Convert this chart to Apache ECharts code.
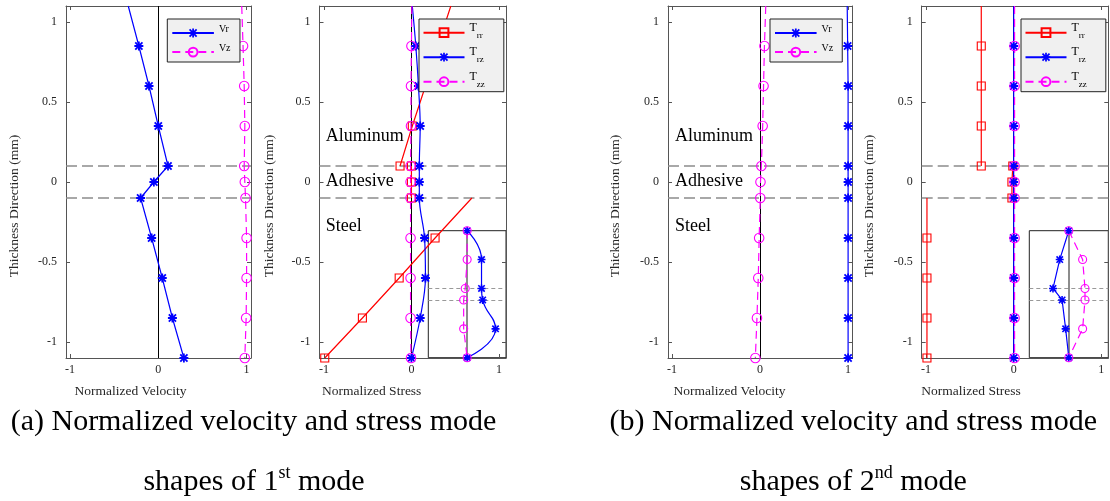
<!DOCTYPE html>
<html><head><meta charset="utf-8">
<script src="https://cdn.jsdelivr.net/npm/echarts@6/dist/echarts.min.js"></script>
<style>html,body{margin:0;padding:0;background:#fff}#c{width:1110px;height:501px}</style>
</head><body><div id="c"></div>
<script>
// ---------- data ----------
const thickness = [1.1, 0.85, 0.6, 0.35, 0.1, 0, -0.1, -0.35, -0.6, -0.85, -1.1];
const interfaces = [0.1, -0.1];
const yTicks = [-1, -0.5, 0, 0.5, 1];
const xTicks = [-1, 0, 1];
const alumY = [1.1, 0.85, 0.6, 0.35, 0.1];
const adhY = [0.1, 0, -0.1];
const steelY = [-0.1, -0.35, -0.6, -0.85, -1.1];
// mode 1
const m1Vr = [-0.34, -0.22, -0.105, 0.0, 0.11, -0.05, -0.2, -0.075, 0.045, 0.16, 0.29];
const m1Vz = [0.945, 0.96, 0.973, 0.98, 0.973, 0.98, 0.988, 1.0, 1.0, 0.995, 0.98];
const m1TrrAl = [0.45, 0.3, 0.16, 0.01, -0.13];
const m1TrrAd = [0.0, 0.0, 0.0];
const m1TrrSt = [0.69, 0.27, -0.14, -0.56, -0.99];
const m1Trz = [0.01, 0.05, 0.08, 0.1, 0.09, 0.09, 0.09, 0.15, 0.16, 0.1, 0.0];
const m1Tzz = [0.005, 0, -0.005, -0.005, -0.01, -0.01, -0.01, -0.01, -0.01, -0.01, -0.005];
// mode 2
const m2Vr = [0.99, 0.995, 1, 1, 1, 1, 1, 1, 1, 1, 1];
const m2Vz = [0.065, 0.05, 0.04, 0.03, 0.015, 0.005, 0.003, -0.01, -0.02, -0.035, -0.053];
const m2TrrAl = [-0.37, -0.37, -0.37, -0.37, -0.37];
const m2TrrAd = [-0.01, -0.02, -0.02];
const m2TrrSt = [-0.99, -0.99, -0.99, -0.99, -0.99];
const m2Trz = [0, 0, 0, 0, 0, 0, 0, 0, 0, 0, 0];
const m2Tzz = [0.01, 0.01, 0.01, 0.01, 0.01, 0.01, 0.01, 0.01, 0.01, 0.01, 0.01];
// insets (zoomed views)
const insetY = [1.1, 0.6, 0.1, -0.1, -0.6, -1.1];
const insetATrz = [0, 0.37, 0.37, 0.40, 0.73, 0];
const insetATzz = [0, 0, -0.05, -0.09, -0.09, 0];
const insetBTrz = [0, -0.23, -0.40, -0.17, -0.08, 0];
const insetBTzz = [0, 0.35, 0.41, 0.41, 0.35, 0];

// ---------- styles ----------
const FONT = '"Liberation Serif", "Times New Roman", serif';
const BLUE = '#0000ff', RED = '#ff0000', MAG = '#ff00ff';
const STAR = 'path://M8,0H12V20H8Z M0,8H20V12H0Z M3.41,0.59L19.41,16.59L16.59,19.41L0.59,3.41Z M16.59,0.59L19.41,3.41L3.41,19.41L0.59,16.59Z';
const AXC = '#555';

function pts(xs, ys, unmarked) {
  return xs.map((x, i) => {
    const it = { value: [x, ys[i]] };
    if (unmarked && unmarked.indexOf(i) >= 0) it.symbol = 'none';
    return it;
  });
}
function ser(name, axis, data, kind, extra) {
  const base = { name, type: 'line', xAxisIndex: axis, yAxisIndex: axis, data, animation: false, z: 3,
    emphasis: { disabled: true }, silent: true };
  if (kind === 'star') Object.assign(base, { symbol: STAR, symbolSize: 9,
    itemStyle: { color: BLUE, borderWidth: 0 }, lineStyle: { color: BLUE, width: 1.2 } });
  if (kind === 'circle') Object.assign(base, { symbol: 'circle', symbolSize: 9.5,
    itemStyle: { color: 'rgba(0,0,0,0)', borderColor: MAG, borderWidth: 1.1 },
    lineStyle: { color: MAG, width: 1.2, type: [8, 5] } });
  if (kind === 'rect') Object.assign(base, { symbol: 'rect', symbolSize: 8,
    itemStyle: { color: 'rgba(0,0,0,0)', borderColor: RED, borderWidth: 1.1 },
    lineStyle: { color: RED, width: 1.2 } });
  return Object.assign(base, extra || {});
}
function refSeries(axis, withZero, inset) {
  const data = interfaces.map(v => ({ yAxis: v, lineStyle: inset ?
    { color: '#999', type: [4, 3], width: 1 } : { color: '#8c8c8c', type: [11, 5], width: 1.6 } }));
  if (withZero) data.push({ xAxis: 0, lineStyle: inset ?
    { color: '#666', type: 'solid', width: 1.5 } : { color: '#000', type: 'solid', width: 1 } });
  return { type: 'line', xAxisIndex: axis, yAxisIndex: axis, data: [], z: 1, silent: true, animation: false,
    markLine: { z: 1, symbol: 'none', silent: true, animation: false, label: { show: false },
      emphasis: { disabled: true }, data } };
}

const grids = [
  { left: 66, top: 6, width: 185, height: 352 },
  { left: 319.5, top: 6, width: 186.5, height: 352 },
  { left: 668, top: 6, width: 184.5, height: 352 },
  { left: 921.7, top: 6, width: 186.6, height: 352 },
  { left: 428.3, top: 230.7, width: 77.7, height: 127, show: true, borderColor: '#222', borderWidth: 1, backgroundColor: 'rgba(0,0,0,0)' },
  { left: 1029.3, top: 230.7, width: 79, height: 127, show: true, borderColor: '#222', borderWidth: 1, backgroundColor: 'rgba(0,0,0,0)' }
];
const xr = [[-1.045, 1.05], [-1.05, 1.08], [-1.045, 1.05], [-1.05, 1.08]];
const xAxis = [], yAxis = [];
const line = { show: true, onZero: false, lineStyle: { color: AXC, width: 1 } };
for (let g = 0; g < 4; g++) {
  xAxis.push({ type: 'value', gridIndex: g, min: xr[g][0], max: xr[g][1], position: 'bottom',
    axisLine: line, splitLine: { show: false },
    axisTick: { show: true, inside: true, length: 4, customValues: xTicks, lineStyle: { color: AXC } },
    axisLabel: { show: true, customValues: xTicks, color: '#262626', fontFamily: FONT, fontSize: 12, margin: 6 } });
  xAxis.push({ type: 'value', gridIndex: g, min: xr[g][0], max: xr[g][1], position: 'top',
    axisLine: line, splitLine: { show: false }, axisLabel: { show: false },
    axisTick: { show: true, inside: true, length: 4, customValues: xTicks, lineStyle: { color: AXC } } });
  yAxis.push({ type: 'value', gridIndex: g, min: -1.1, max: 1.1, position: 'left',
    axisLine: line, splitLine: { show: false },
    axisTick: { show: true, inside: true, length: 4, customValues: yTicks, lineStyle: { color: AXC } },
    axisLabel: { show: true, customValues: yTicks, color: '#262626', fontFamily: FONT, fontSize: 12, margin: 9 } });
  yAxis.push({ type: 'value', gridIndex: g, min: -1.1, max: 1.1, position: 'right',
    axisLine: line, splitLine: { show: false }, axisLabel: { show: false },
    axisTick: { show: true, inside: true, length: 4, customValues: yTicks, lineStyle: { color: AXC } } });
}
for (let g = 4; g < 6; g++) {
  xAxis.push({ type: 'value', gridIndex: g, min: -1, max: 1, show: false });
  yAxis.push({ type: 'value', gridIndex: g, min: -1.1, max: 1.1, show: false });
}
// axis indices: main panel g -> 2g ; insets -> 8, 9

const series = [
  refSeries(0, true), refSeries(2, true), refSeries(4, true), refSeries(6, true),
  refSeries(8, true, true), refSeries(9, true, true),
  // panel (a) velocity
  ser('Vr', 0, pts(m1Vr, thickness, [0]), 'star'),
  ser('Vz', 0, pts(m1Vz, thickness, [0]), 'circle'),
  // panel (a) stress
  ser('Trr', 2, pts(m1TrrAl, alumY, [0]), 'rect'),
  ser('Trr', 2, pts(m1TrrAd, adhY), 'rect'),
  ser('Trr', 2, pts(m1TrrSt, steelY, [0]), 'rect'),
  ser('Trz', 2, pts(m1Trz, thickness, [0]), 'star', { smooth: 0.35 }),
  ser('Tzz', 2, pts(m1Tzz, thickness, [0]), 'circle'),
  // panel (b) velocity
  ser('Vr', 4, pts(m2Vr, thickness, [0]), 'star'),
  ser('Vz', 4, pts(m2Vz, thickness, [0]), 'circle'),
  // panel (b) stress
  ser('Trr', 6, pts(m2TrrAl, alumY, [0]), 'rect'),
  ser('Trr', 6, pts(m2TrrAd, adhY), 'rect'),
  ser('Trr', 6, pts(m2TrrSt, steelY, [0]), 'rect'),
  ser('Trz', 6, pts(m2Trz, thickness, [0]), 'star'),
  ser('Tzz', 6, pts(m2Tzz, thickness, [0]), 'circle'),
  // insets
  ser('insetATrz', 8, pts(insetATrz, insetY), 'star', { smooth: 0.5, symbolSize: 8 }),
  ser('insetATzz', 8, pts(insetATzz, insetY), 'circle', { symbolSize: 8 }),
  ser('insetBTrz', 9, pts(insetBTrz, insetY), 'star', { symbolSize: 8 }),
  ser('insetBTzz', 9, pts(insetBTzz, insetY), 'circle', { symbolSize: 8 })
];

function velLegend(left, padR) {
  return { data: ['Vr', 'Vz'], left, top: 19, orient: 'vertical', selectedMode: false, z: 20, zlevel: 0,
    backgroundColor: '#f0f0f0', borderColor: '#222', borderWidth: 1,
    padding: [5, padR, 4.5, 4], itemGap: 5.7, itemWidth: 41.6, itemHeight: 11,
    formatter: n => '{v|' + n + '}',
    textStyle: { fontFamily: FONT, fontSize: 10, color: '#000', rich: {
      v: { fontFamily: FONT, fontSize: 10, color: '#000', padding: [0, 0, 8, 0] } } } };
}
function strLegend(left) {
  return { data: ['Trr', 'Trz', 'Tzz'], left, top: 19, orient: 'vertical', selectedMode: false, z: 20, zlevel: 0,
    backgroundColor: '#f0f0f0', borderColor: '#222', borderWidth: 1,
    padding: [2.7, 19, 3, 3.5], itemGap: 6.5, itemWidth: 41, itemHeight: 11,
    formatter: n => '{t|T}{s|' + n.slice(1) + '}',
    textStyle: { fontFamily: FONT, color: '#000', rich: {
      t: { fontFamily: FONT, fontSize: 12, color: '#000', padding: [0, 0, 10, 0] },
      s: { fontFamily: FONT, fontSize: 9, color: '#000', padding: [5, 0, 0, 0] } } } };
}

const txt = (x, y, text, size, opts) => Object.assign({ type: 'text', x, y, silent: true,
  style: Object.assign({ text, font: size + 'px ' + FONT, fill: '#262626', align: 'center', verticalAlign: 'middle' }, (opts && opts.style) || {}) },
  (opts && opts.el) || {});
const graphic = [];
[14, 269, 615, 869].forEach(x => graphic.push(txt(x, 206, 'Thickness Direction (mm)', 13.5, { el: { rotation: Math.PI / 2 } })));
[[130.5, 'Normalized Velocity'], [371.7, 'Normalized Stress'], [729.5, 'Normalized Velocity'], [971, 'Normalized Stress']]
  .forEach(([x, t]) => graphic.push(txt(x, 391, t, 13.5)));
[[325.7, 226], [675, 226]].forEach(([x, ys]) => {
  const st = { fill: '#000', align: 'left' };
  graphic.push(txt(x, 136, 'Aluminum', 18, { style: st }));
  graphic.push(txt(x, 181, 'Adhesive', 18, { style: st }));
  graphic.push(txt(x, ys, 'Steel', 18, { style: st }));
});
const capRich = { n: { fontFamily: FONT, fontSize: 30, color: '#000' },
  sup: { fontFamily: FONT, fontSize: 18, color: '#000', padding: [0, 0, 18, 0] } };
graphic.push(txt(253.5, 422, '(a) Normalized velocity and stress mode', 30, { style: { fill: '#000' } }));
graphic.push(txt(853.3, 422, '(b) Normalized velocity and stress mode', 30, { style: { fill: '#000' } }));
graphic.push(txt(254, 482, '{n|shapes of 1}{sup|st}{n| mode}', 30, { style: { fill: '#000', rich: capRich } }));
graphic.push(txt(853.3, 482, '{n|shapes of 2}{sup|nd}{n| mode}', 30, { style: { fill: '#000', rich: capRich } }));

const chart = echarts.init(document.getElementById('c'), null, { renderer: 'canvas' });
chart.setOption({
  animation: false, backgroundColor: '#fff',
  grid: grids, xAxis, yAxis, series,
  legend: [velLegend(167.3, 9.4), strLegend(419), velLegend(770, 9), strLegend(1021)],
  graphic
});
</script></body></html>
